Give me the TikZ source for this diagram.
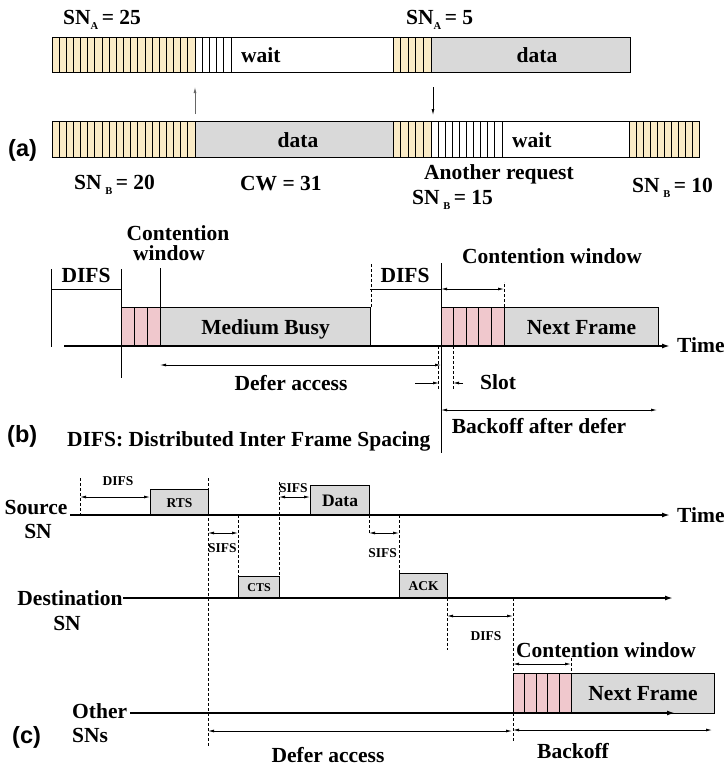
\documentclass[tikz,border=0pt]{standalone}
\usepackage{fontspec}
\setmainfont{Liberation Serif}
\newfontfamily\panelfont{Liberation Sans}
\usetikzlibrary{arrows.meta}

\definecolor{slotyellow}{RGB}{250,235,198}
\definecolor{slotpink}{RGB}{240,200,205}
\definecolor{busygray}{RGB}{217,217,217}

\newcommand\lblsize{\fontsize{21.5}{24}\selectfont\bfseries}
\newcommand\tinysize{\fontsize{13.5}{15}\selectfont\bfseries}
\newcommand\snsub[1]{\raisebox{-5pt}{\fontsize{10.5}{11}\selectfont\bfseries #1}}

% a row of back-off slots: x0, count, slot width, top y, height, fill
\newcommand\slotrow[6]{%
  \foreach \k in {1,...,#2}{%
    \draw[slotline, fill=#6] ({#1+(\k-1)*#3},#4) rectangle ++(#3,#5);
  }}

\tikzset{
  lbl/.style={font=\lblsize, inner sep=0pt, anchor=base},
  lblw/.style={lbl, anchor=base west},
  small/.style={font=\tinysize, inner sep=0pt, anchor=base},
  panel/.style={font=\panelfont\fontsize{23.5}{26}\selectfont\bfseries, inner sep=0pt},
  framebox/.style={draw, line width=1.1pt, inner sep=0pt, text depth=0pt, anchor=north west},
  graybox/.style={framebox, fill=busygray},
  slotline/.style={line width=0.9pt},
  axis/.style={line width=2pt, -{Latex[length=8pt,width=5pt]}},
  thin/.style={line width=0.8pt},
  tick/.style={line width=0.8pt, dash pattern=on 3pt off 2pt},
  span/.style={line width=0.8pt, {Latex[length=6pt,width=3pt]}-{Latex[length=6pt,width=3pt]}},
  toright/.style={line width=0.8pt, -{Latex[length=6pt,width=3pt]}},
}

\begin{document}
\begin{tikzpicture}[x=1pt,y=-1pt]
\useasboundingbox (0,0) rectangle (724,769);

% ---------------- (a) two stations counting down ----------------
% station A
\slotrow{52}{20}{7.15}{37}{35}{slotyellow}
\slotrow{195}{5}{7.2}{37}{35}{white}
\node[framebox, fill=white, minimum width=162pt, minimum height=35pt] (await) at (231,37) {};
\slotrow{393}{5}{7.6}{37}{35}{slotyellow}
\node[graybox, minimum width=199pt, minimum height=35pt] (adata) at (431,37) {};
\node[lblw] (awaitlbl) at (241,62.5) {wait};
\node[lbl] (adatalbl) at (537,62) {data};

% station B
\slotrow{52}{20}{7.15}{121}{36}{slotyellow}
\node[graybox, minimum width=198pt, minimum height=36pt] (bdata) at (195,121) {};
\slotrow{393}{5}{7.6}{121}{36}{slotyellow}
\slotrow{431}{10}{7.1}{121}{36}{white}
\node[framebox, fill=white, minimum width=127pt, minimum height=36pt] (bwait) at (502,121) {};
\slotrow{629}{10}{7}{121}{36}{slotyellow}
\node[lbl] (bdatalbl) at (298,147) {data};
\node[lblw] (bwaitlbl) at (512,147) {wait};

\coordinate (upfrom) at (195,114);
\coordinate (upto) at (195,87);
\draw[toright, draw=black!60] (upfrom) -- (upto);
\coordinate (downfrom) at (433,87);
\coordinate (downto) at (433,115);
\draw[toright] (downfrom) -- (downto);

\node[lblw] (sna25) at (63,24) {SN\snsub{A}\,= 25};
\node[lblw] (sna5) at (406,24) {SN\snsub{A}\,= 5};
\node[lblw] (snb20) at (74,189) {SN\,\snsub{B}\,= 20};
\node[lblw] (cw31) at (240,190) {CW = 31};
\node[lblw] (another) at (424,179) {Another request};
\node[lblw] (snb15) at (412,204) {SN\,\snsub{B}\,= 15};
\node[lblw] (snb10) at (632,192) {SN\,\snsub{B}\,= 10};
\node[panel, anchor=west] (pa) at (8,150) {(a)};

% ---------------- (b) basic access with back-off ----------------
\node[lbl] (difsL) at (86,282) {DIFS};
\draw[thin] (51,269) -- (51,347);
\draw[thin] (121,269) -- (121,378);
\draw[thin] (51,289) -- (121,289);
\node[lbl] (cw1) at (178,240) {Contention};
\node[lbl] (cw2) at (169,260) {window};
\slotrow{121}{3}{13}{307}{39}{slotpink}
\node[graybox, minimum width=210pt, minimum height=39pt, font=\lblsize] (busy) at (160,307) {Medium Busy};
\draw[thin] (busy.north west) -- ++(0,-39);
\draw[tick] (busy.north east) -- ++(0,-44);
\node[lbl] (difsR) at (405,282) {DIFS};
\draw[thin] (370,289) -- (441,289);
\draw[thin] (441,263) -- (441,453);
\slotrow{441}{5}{12.6}{307}{39}{slotpink}
\node[graybox, minimum width=154pt, minimum height=39pt, font=\lblsize] (nextB) at (504,307) {Next Frame};
\draw[tick] (nextB.north west) -- ++(0,-25);
\draw[span] (441,289) -- (504,289);
\node[lbl] (cwB) at (552,263) {Contention window};
\coordinate (tb0) at (64,346);
\coordinate (tb1) at (670,346);
\draw[axis] (tb0) -- (tb1);
\node[lblw] (timeB) at (677,352) {Time};
\draw[span] (160,365) -- (441,365);
\node[lbl] (deferB) at (291,390) {Defer access};
\draw[tick] (438.5,346) -- (438.5,390);
\draw[tick] (453,346) -- (453,390);
\draw[toright] (415,383) -- (439,383);
\draw[toright] (463,383) -- (453,383);
\node[lblw] (slot) at (480,389) {Slot};
\draw[span] (441,410) -- (657,410);
\node[lbl] (backB) at (539,433) {Backoff after defer};
\node[panel, anchor=west] (pb) at (7,436) {(b)};
\node[lblw] (difsdef) at (67,446) {DIFS: Distributed Inter Frame Spacing};

% ---------------- (c) RTS/CTS exchange ----------------
\node[lbl] (src1) at (36,514) {Source};
\node[lbl] (src2) at (38,538) {SN};
\draw[tick] (80,478) -- (80,515);
\draw[span] (80,497) -- (150,497);
\node[small] (difsC1) at (118,485) {DIFS};
\node[graybox, minimum width=58pt, minimum height=26pt, font=\tinysize] (rts) at (150,489) {RTS};
\draw[tick] (208,478) -- (208,747);
\draw[span] (208,533) -- (238,533);
\node[small, anchor=base west] (sifs1) at (208,552) {SIFS};
\draw[tick] (238,515) -- (238,576);
\node[graybox, minimum width=41pt, minimum height=22pt, font=\fontsize{12}{14}\selectfont\bfseries] (cts) at (238,576) {CTS};
\draw[tick] (279,482) -- (279,576);
\draw[span] (279,497) -- (310,497);
\node[small, anchor=base west] (sifs2) at (279,492) {SIFS};
\node[graybox, minimum width=59pt, minimum height=30pt, font=\fontsize{17.5}{20}\selectfont\bfseries] (data) at (310,485) {Data};
\draw[tick] (369,515) -- (369,533);
\draw[span] (369,533) -- (399,533);
\node[small, anchor=base east] (sifs3) at (397,557) {SIFS};
\draw[tick] (399,515) -- (399,573);
\node[graybox, minimum width=48pt, minimum height=25pt, font=\tinysize] (ack) at (399,573) {ACK};
\coordinate (ts0) at (70,515);
\coordinate (ts1) at (670,515);
\draw[axis] (ts0) -- (ts1);
\node[lblw] (timeC) at (677,522) {Time};

\node[lbl] (dst1) at (70,605) {Destination};
\node[lbl] (dst2) at (67,630) {SN};
\coordinate (td0) at (123,598);
\coordinate (td1) at (673,598);
\draw[axis] (td0) -- (td1);
\draw[tick] (447,598) -- (447,650);
\draw[tick] (513,598) -- (513,742);
\draw[span] (447,616) -- (513,616);
\node[small] (difsC2) at (486,640) {DIFS};

\slotrow{513}{5}{11.6}{673}{40}{slotpink}
\node[graybox, minimum width=143pt, minimum height=40pt, font=\lblsize] (nextC) at (571,673) {Next Frame};
\draw[tick] (571,658) -- (571,673);
\draw[span] (513,664) -- (571,664);
\node[lbl] (cwC) at (606,657) {Contention window};
\coordinate (to0) at (130,713);
\coordinate (to1) at (675,713);
\draw[axis] (to0) -- (to1);
\node[lblw] (oth1) at (72,718) {Other};
\node[lblw] (oth2) at (72,742) {SNs};
\node[panel, anchor=west] (pc) at (12,737) {(c)};
\draw[span] (208,731) -- (512,731);
\draw[span] (513,730) -- (712,730);
\node[lbl] (backC) at (573,758) {Backoff};
\node[lbl] (deferC) at (328,762) {Defer access};
\end{tikzpicture}
\end{document}
